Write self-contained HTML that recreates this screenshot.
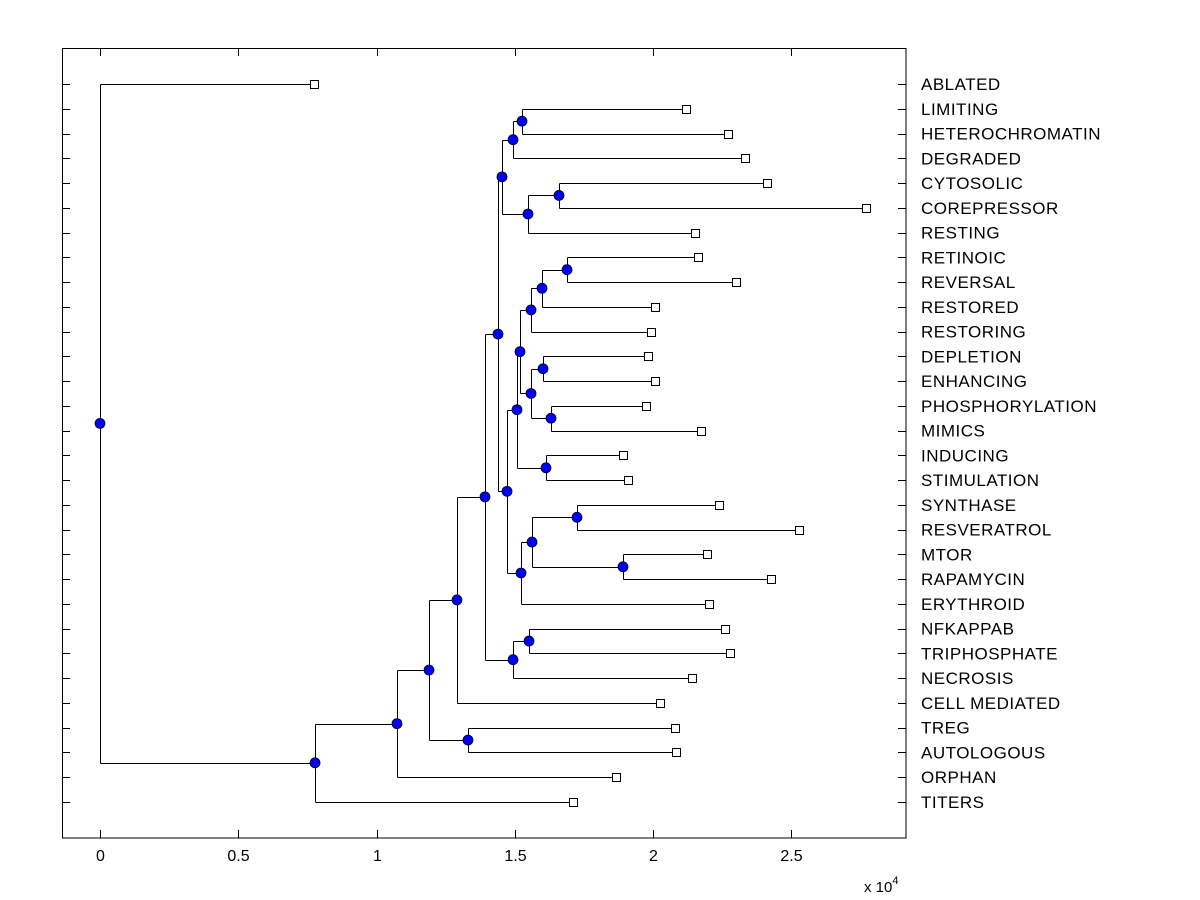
<!DOCTYPE html>
<html><head><meta charset="utf-8"><style>
body{margin:0;background:#fff;}
svg{display:block;font-family:"Liberation Sans",sans-serif;}
</style></head><body>
<svg id="chart" width="1200" height="900" xmlns="http://www.w3.org/2000/svg">
<rect x="0" y="0" width="1200" height="900" fill="#fff"/>
<g id="plot"></g>
<rect x="62.5" y="48.5" width="843.5" height="789.5" fill="none" stroke="#000" stroke-width="1"/>
<text x="864" y="892" font-size="15">x 10<tspan dy="-8" font-size="11">4</tspan></text>
</svg>
<script>
const leafNames = ["ABLATED","LIMITING","HETEROCHROMATIN","DEGRADED","CYTOSOLIC","COREPRESSOR","RESTING","RETINOIC","REVERSAL","RESTORED","RESTORING","DEPLETION","ENHANCING","PHOSPHORYLATION","MIMICS","INDUCING","STIMULATION","SYNTHASE","RESVERATROL","MTOR","RAPAMYCIN","ERYTHROID","NFKAPPAB","TRIPHOSPHATE","NECROSIS","CELL MEDIATED","TREG","AUTOLOGOUS","ORPHAN","TITERS"];
const leafDist = [7740,21190,22710,23330,24120,27700,21520,21630,23000,20070,19930,19820,20070,19750,21740,18920,19100,22390,25280,21950,24270,22030,22600,22780,21410,20250,20800,20830,18660,17110];
const nodeNames = ["L","M","J","K","H","U","T","R","V","W","S","P","Q","N","Y","Z","X","O","I","F","AA","G","E","D","TA","C","B","A","root"];
const nodeDist = [15262,16600,14937,15479,14539,16890,15986,15588,16022,16311,15588,15190,16130,15081,17251,18915,15624,15226,14720,14394,15515,14937,13924,12911,13309,11899,10741,7776,0];
const nodeChildren = [["LIMITING","HETEROCHROMATIN"],["CYTOSOLIC","COREPRESSOR"],["L","DEGRADED"],["M","RESTING"],["J","K"],["RETINOIC","REVERSAL"],["U","RESTORED"],["T","RESTORING"],["DEPLETION","ENHANCING"],["PHOSPHORYLATION","MIMICS"],["V","W"],["R","S"],["INDUCING","STIMULATION"],["P","Q"],["SYNTHASE","RESVERATROL"],["MTOR","RAPAMYCIN"],["Y","Z"],["X","ERYTHROID"],["N","O"],["H","I"],["NFKAPPAB","TRIPHOSPHATE"],["AA","NECROSIS"],["F","G"],["E","CELL MEDIATED"],["TREG","AUTOLOGOUS"],["D","TA"],["C","ORPHAN"],["B","TITERS"],["ABLATED","A"]];
const xTicks = [0,5000,10000,15000,20000,25000];
const xTickLabels = ["0","0.5","1","1.5","2","2.5"];

const NS="http://www.w3.org/2000/svg";
const g=document.getElementById('plot');
const X0=100, XS=276.5/10000, Y0=84, YS=(802-84)/29;
const xs=v=>X0+v*XS, ys=i=>Y0+i*YS;
function mk(t,a){const e=document.createElementNS(NS,t);for(const k in a)e.setAttribute(k,a[k]);g.appendChild(e);return e;}
const pos={};
leafNames.forEach((n,i)=>{pos[n]={x:xs(leafDist[i]),y:ys(i)};});
nodeNames.forEach((n,i)=>{const c=nodeChildren[i].map(k=>pos[k]);pos[n]={x:xs(nodeDist[i]),y:c.reduce((s,p)=>s+p.y,0)/c.length};});
leafNames.forEach((n,i)=>{const y=Math.round(ys(i))+0.5;
 let t=mk('line',{x1:62,x2:70,y1:y,y2:y,stroke:'#000'});
 
 
 t=mk('line',{x1:898,x2:906,y1:y,y2:y,stroke:'#000'});
 
 
 const lb=mk('text',{x:921,y:ys(i)+6,'font-size':17,'letter-spacing':0.5});lb.textContent=n;
 
 
});
xTicks.forEach((v,i)=>{const x=Math.round(xs(v))+0.5;
 let t=mk('line',{x1:x,x2:x,y1:830,y2:838,stroke:'#000'});
 
 
 t=mk('line',{x1:x,x2:x,y1:48,y2:56,stroke:'#000'});
 
 
 const lb=mk('text',{x:x,y:861,'font-size':16,'text-anchor':'middle'});lb.textContent=xTickLabels[i];
 
 
});
nodeNames.forEach((n,i)=>{const p=pos[n];const c=nodeChildren[i].map(k=>pos[k]);
 const ymin=Math.min(...c.map(q=>q.y)),ymax=Math.max(...c.map(q=>q.y));
 const px=Math.round(p.x)+0.5;
 let v=mk('line',{x1:px,x2:px,y1:Math.round(ymin)+0.5,y2:Math.round(ymax)+0.5,stroke:'#000'});
 
 
 c.forEach(q=>{const y=Math.round(q.y)+0.5;
  const h=mk('line',{x1:px,x2:Math.round(q.x)+0.5,y1:y,y2:y,stroke:'#000'});
  
  });
});
nodeNames.forEach(n=>{const p=pos[n];
 const c=mk('circle',{cx:p.x,cy:p.y,r:5,fill:'#0000ff',stroke:'#000','stroke-width':0.8});
 
 });
leafNames.forEach(n=>{const p=pos[n];
 const r=mk('rect',{x:Math.round(p.x)-3.5,y:Math.round(p.y)-3.5,width:8,height:8,fill:'#fff',stroke:'#000'});
 
 });
</script>
</body></html>
